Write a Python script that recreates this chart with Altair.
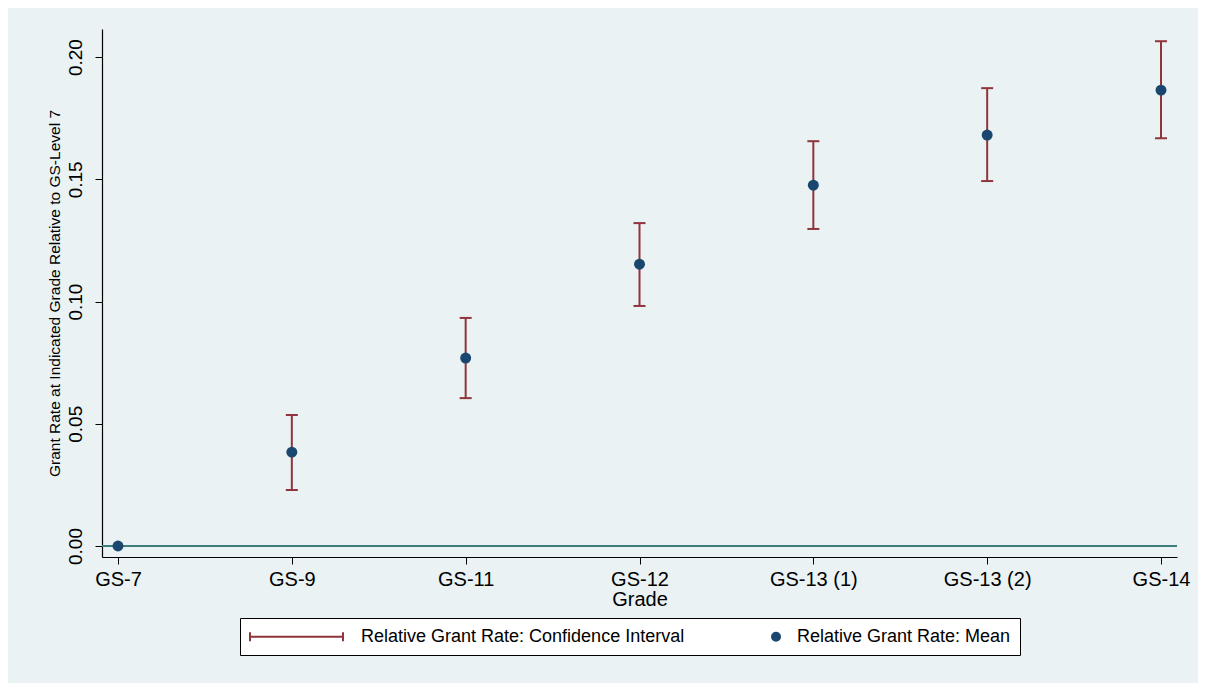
import altair as alt
import pandas as pd

grades = ["GS-7", "GS-9", "GS-11", "GS-12", "GS-13 (1)", "GS-13 (2)", "GS-14"]
means = [0.0, 0.0384, 0.0769, 0.1153, 0.1476, 0.1681, 0.1865]
ci_low = [None, 0.0229, 0.0605, 0.0982, 0.1297, 0.1493, 0.1668]
ci_high = [None, 0.0536, 0.0933, 0.1321, 0.1656, 0.1873, 0.2065]
y_ticks = [0.0, 0.05, 0.10, 0.15, 0.20]
series_names = ["Relative Grant Rate: Confidence Interval", "Relative Grant Rate: Mean"]

MAROON = "#90353b"
NAVY = "#1a476f"
TEAL = "#3f7f7b"
BG = "#eaf2f3"
FONT = "Liberation Sans"

df = pd.DataFrame({"grade": grades, "mean": means, "lo": ci_low, "hi": ci_high})
df["series"] = series_names[1]

x_enc = alt.X("grade:N", sort=grades, scale=alt.Scale(type="point", padding=0.092),
              axis=alt.Axis(title="Grade", labelAngle=0, labelFontSize=20, labelFont=FONT,
                            labelColor="black", labelPadding=5, tickSize=7, tickColor="black",
                            tickWidth=1, domainColor="black", domainWidth=1.2,
                            titleFontSize=20, titleFont=FONT, titleFontWeight="normal",
                            titleColor="black", titleBaseline="alphabetic", titleY=48,
                            grid=False))
y_scale = alt.Scale(domain=[-0.0045, 0.2115], nice=False, zero=False)
y_axis = alt.Axis(title="Grant Rate at Indicated Grade Relative to GS-Level 7",
                  values=y_ticks, format=".2f", labelAngle=270, labelAlign="center",
                  labelBaseline="alphabetic", labelPadding=14, labelFontSize=19,
                  labelFont=FONT, labelColor="black", tickSize=7, tickColor="black",
                  domainColor="black", domainWidth=1.2, grid=True, gridColor=BG,
                  gridWidth=1.5, titleFontSize=15.5, titleFont=FONT,
                  titleFontWeight="normal", titleColor="black", titleAngle=270,
                  titleBaseline="alphabetic", titleX=-43)

base = alt.Chart(df)

zero_line = base.mark_rule(color=TEAL, strokeWidth=1.5).encode(
    y=alt.datum(0, scale=y_scale, axis=y_axis)
)

rules = base.mark_rule(color=MAROON, strokeWidth=2).encode(
    x=x_enc, y=alt.Y("lo:Q", scale=y_scale, axis=y_axis), y2="hi:Q"
)
cap_lo = base.mark_tick(color=MAROON, thickness=2, size=12, opacity=1).encode(
    x=x_enc, y=alt.Y("lo:Q", scale=y_scale)
)
cap_hi = base.mark_tick(color=MAROON, thickness=2, size=12, opacity=1).encode(
    x=x_enc, y=alt.Y("hi:Q", scale=y_scale)
)
points = base.mark_point(filled=True, color=NAVY, size=120, opacity=1, shape="circle").encode(
    x=x_enc, y=alt.Y("mean:Q", scale=y_scale)
)

# legend symbol paths (unit = 8.5 px, symbol centred 9.5 px into each entry)
ci_path = "M-1,0L9.94,0M-1,-0.53L-1,0.53M9.94,-0.53L9.94,0.53"
dot_path = "M9.12,0A0.47,0.47,0,1,1,10.06,0A0.47,0.47,0,1,1,9.12,0Z"

legend = alt.Legend(title=None, orient="none", legendX=138, legendY=589,
                    direction="horizontal", columns=2, columnPadding=-9,
                    labelFontSize=18, labelFont=FONT, labelColor="black",
                    labelOffset=93, symbolSize=289, symbolStrokeWidth=2,
                    strokeColor="black", fillColor="white", padding=9,
                    labelLimit=500, symbolOpacity=1)

legend_layer = base.transform_filter("false").mark_point(filled=True, size=289, opacity=1).encode(
    fill=alt.Fill("series:N", scale=alt.Scale(domain=series_names, range=[MAROON, NAVY]), legend=legend),
    stroke=alt.Stroke("series:N", scale=alt.Scale(domain=series_names, range=[MAROON, NAVY]), legend=legend),
    shape=alt.Shape("series:N", scale=alt.Scale(domain=series_names, range=[ci_path, dot_path]), legend=legend),
)

chart = alt.layer(zero_line, rules, cap_lo, cap_hi, points, legend_layer).properties(
    width=1075, height=528,
    autosize=alt.AutoSizeParams(type="none"),
    padding={"left": 94, "top": 21, "right": 21, "bottom": 126},
    background=BG,
).configure_view(fill="white", stroke=None).configure_axis(
    labelFont=FONT, titleFont=FONT
)

chart.save("out.html", embed_options={"renderer": "svg", "actions": False})
